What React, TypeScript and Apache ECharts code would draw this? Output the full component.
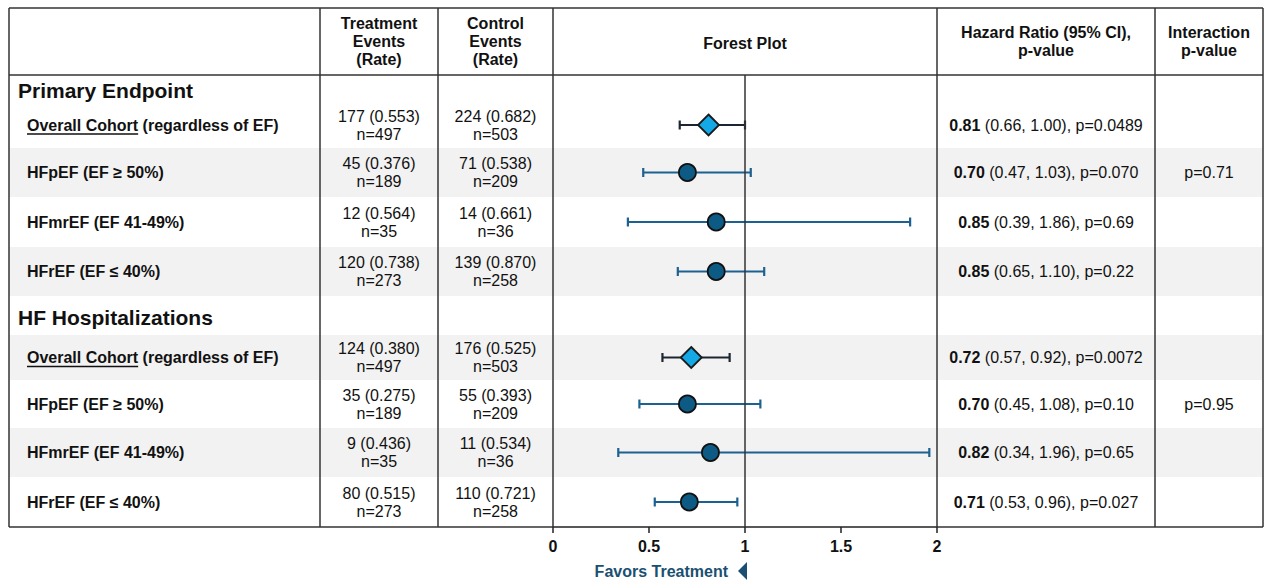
import React, { useEffect, useRef } from "react";
import * as echarts from "echarts";

// ---------- DATA ----------
const groupTitles = ["Primary Endpoint", "HF Hospitalizations"];
const subgroupLabels = ["Overall Cohort", "HFpEF (EF ≥ 50%)", "HFmrEF (EF 41-49%)", "HFrEF (EF ≤ 40%)"];
const overallSuffix = " (regardless of EF)";
const trtEvents = [177, 45, 12, 120, 124, 35, 9, 80];
const trtRate = [0.553, 0.376, 0.564, 0.738, 0.38, 0.275, 0.436, 0.515];
const trtN = [497, 189, 35, 273, 497, 189, 35, 273];
const ctlEvents = [224, 71, 14, 139, 176, 55, 11, 110];
const ctlRate = [0.682, 0.538, 0.661, 0.87, 0.525, 0.393, 0.534, 0.721];
const ctlN = [503, 209, 36, 258, 503, 209, 36, 258];
const hrValues = [0.81, 0.7, 0.85, 0.85, 0.72, 0.7, 0.82, 0.71];
const ciLow = [0.66, 0.47, 0.39, 0.65, 0.57, 0.45, 0.34, 0.53];
const ciHigh = [1.0, 1.03, 1.86, 1.1, 0.92, 1.08, 1.96, 0.96];
const pValues = ["0.0489", "0.070", "0.69", "0.22", "0.0072", "0.10", "0.65", "0.027"];
const interactionP = ["0.71", "0.95"];
const xTicks = [0, 0.5, 1, 1.5, 2];
const headerLabels = ["Treatment\nEvents\n(Rate)", "Control\nEvents\n(Rate)", "Forest Plot", "Hazard Ratio (95% CI),\np-value", "Interaction\np-value"];
const favorsLabel = "Favors Treatment";

// ---------- LAYOUT ----------
const W = 1265;
const H = 581;
const FONT = '"Liberation Sans", Arial, Helvetica, sans-serif';
const TL = 9, TR = 1263, TT = 8, HB = 75, TB = 527;
const colX = [320, 438, 553, 937, 1155];
const rowBounds = [75, 102, 148, 197, 247, 296, 335, 380, 428, 477, 527];
const shaded = [0, 0, 1, 0, 1, 0, 1, 0, 1, 0];
const LINE = "#333333";
const TXT = "#111111";

function measure(s: string, font: string) {
  const c = document.createElement("canvas").getContext("2d");
  if (!c) return s.length * 8;
  c.font = font;
  return c.measureText(s).width;
}

export default function App() {
  const ref = useRef<HTMLDivElement>(null);
  useEffect(() => {
    if (!ref.current) return;
    const chart = echarts.init(ref.current, undefined, { renderer: "svg" });

    const rowCenter = (i: number) => (rowBounds[i] + rowBounds[i + 1]) / 2;
    const tableRow = (i: number) => (i < 4 ? i + 1 : i + 2);

    const graphics: any[] = [];
    for (let r = 0; r < rowBounds.length - 1; r++) {
      if (shaded[r]) {
        graphics.push({
          type: "rect",
          z: 0,
          shape: { x: TL, y: rowBounds[r], width: TR - TL, height: rowBounds[r + 1] - rowBounds[r] },
          style: { fill: "#f2f2f2" },
        });
      }
    }
    const ln = (x1: number, y1: number, x2: number, y2: number) =>
      graphics.push({ type: "line", z: 20, shape: { x1, y1, x2, y2 }, style: { stroke: LINE, lineWidth: 1.5 } });
    ln(TL, TT, TR, TT);
    ln(TL, HB, TR, HB);
    ln(TL, TB, colX[2], TB);
    ln(colX[3], TB, TR, TB);
    ln(TL, TT, TL, TB);
    ln(TR, TT, TR, TB);
    colX.forEach((x) => ln(x, TT, x, TB));

    const hdrX = [
      (colX[0] + colX[1]) / 2,
      (colX[1] + colX[2]) / 2,
      (colX[2] + colX[3]) / 2,
      (colX[3] + colX[4]) / 2,
      (colX[4] + TR) / 2,
    ];
    headerLabels.forEach((t, i) => {
      graphics.push({
        type: "text",
        z: 30,
        x: hdrX[i],
        y: i === 2 ? 43 : 41,
        style: {
          text: t,
          font: `bold 16px ${FONT}`,
          fill: TXT,
          align: "center",
          verticalAlign: "middle",
          lineHeight: 18,
        },
      });
    });

    groupTitles.forEach((t, g) => {
      const r = g === 0 ? 0 : 5;
      graphics.push({
        type: "text",
        z: 30,
        x: 18,
        y: rowCenter(r) + 2,
        style: { text: t, font: `bold 21px ${FONT}`, fill: TXT, align: "left", verticalAlign: "middle" },
      });
    });

    const boldFont = `bold 16px ${FONT}`;
    const underlineW = measure(subgroupLabels[0], boldFont);

    for (let i = 0; i < 8; i++) {
      const r = tableRow(i);
      const cy = rowCenter(r);
      const s = i % 4;
      const label = s === 0 ? subgroupLabels[0] + overallSuffix : subgroupLabels[s];
      graphics.push({
        type: "text",
        z: 30,
        x: 27,
        y: cy,
        style: { text: label, font: boldFont, fill: TXT, align: "left", verticalAlign: "middle" },
      });
      if (s === 0) {
        graphics.push({
          type: "line",
          z: 30,
          shape: { x1: 27, y1: cy + 9, x2: 27 + underlineW, y2: cy + 9 },
          style: { stroke: TXT, lineWidth: 1.5 },
        });
      }
      graphics.push({
        type: "text",
        z: 30,
        x: hdrX[0],
        y: cy,
        style: {
          text: `${trtEvents[i]} (${trtRate[i].toFixed(3)})\nn=${trtN[i]}`,
          font: `16px ${FONT}`,
          fill: TXT,
          align: "center",
          verticalAlign: "middle",
          lineHeight: 18,
        },
      });
      graphics.push({
        type: "text",
        z: 30,
        x: hdrX[1],
        y: cy,
        style: {
          text: `${ctlEvents[i]} (${ctlRate[i].toFixed(3)})\nn=${ctlN[i]}`,
          font: `16px ${FONT}`,
          fill: TXT,
          align: "center",
          verticalAlign: "middle",
          lineHeight: 18,
        },
      });
      graphics.push({
        type: "text",
        z: 30,
        x: hdrX[3],
        y: cy,
        style: {
          text: `{b|${hrValues[i].toFixed(2)}}{n| (${ciLow[i].toFixed(2)}, ${ciHigh[i].toFixed(2)}), p=${pValues[i]}}`,
          align: "center",
          verticalAlign: "middle",
          rich: {
            b: { fontWeight: "bold", fontSize: 16, fontFamily: FONT, fill: TXT },
            n: { fontWeight: "normal", fontSize: 16, fontFamily: FONT, fill: TXT },
          },
        },
      });
      if (s === 1) {
        graphics.push({
          type: "text",
          z: 30,
          x: hdrX[4],
          y: cy,
          style: {
            text: `p=${interactionP[i < 4 ? 0 : 1]}`,
            font: `16px ${FONT}`,
            fill: TXT,
            align: "center",
            verticalAlign: "middle",
          },
        });
      }
    }

    graphics.push({
      type: "text",
      z: 30,
      x: 728,
      y: 571,
      style: { text: favorsLabel, font: `bold 16px ${FONT}`, fill: "#1b4f72", align: "right", verticalAlign: "middle" },
    });
    graphics.push({
      type: "polygon",
      z: 30,
      shape: { points: [[738, 571], [747, 562], [747, 580]] },
      style: { fill: "#1b4f72" },
    });

    const posY = (i: number) => rowCenter(tableRow(i)) - rowBounds[0];
    const ciData = hrValues.map((_, i) => [ciLow[i], ciHigh[i], posY(i), i % 4 === 0 ? 1 : 0]);
    const overallPts = hrValues.map((v, i) => (i % 4 === 0 ? [v, posY(i)] : null)).filter(Boolean);
    const subPts = hrValues.map((v, i) => (i % 4 !== 0 ? [v, posY(i)] : null)).filter(Boolean);

    chart.setOption({
      animation: false,
      grid: { left: colX[2], right: W - colX[3], top: rowBounds[0], bottom: H - TB, containLabel: false },
      xAxis: {
        type: "value",
        position: "bottom",
        min: 0,
        max: 2,
        interval: 0.5,
        axisLine: { show: true, onZero: false, lineStyle: { color: "#222", width: 1.5 } },
        axisTick: { show: true, inside: false, length: 6, lineStyle: { color: "#222", width: 1.5 } },
        axisLabel: {
          margin: 11,
          fontFamily: FONT,
          fontSize: 16,
          fontWeight: "bold",
          color: TXT,
          formatter: (v: number) => (xTicks.includes(v) ? String(v) : ""),
        },
        splitLine: { show: false },
      },
      yAxis: {
        type: "value",
        min: 0,
        max: TB - rowBounds[0],
        inverse: true,
        show: false,
      },
      graphic: { elements: graphics },
      series: [
        {
          type: "custom",
          z: 3,
          data: ciData,
          encode: { x: [0, 1], y: 2 },
          renderItem: (params: any, api: any) => {
            const lo = api.value(0);
            const hi = api.value(1);
            const y = api.value(2);
            const ov = api.value(3) === 1;
            const p1 = api.coord([lo, y]);
            const p2 = api.coord([hi, y]);
            const color = ov ? "#1c2633" : "#1d6190";
            const st = { stroke: color, lineWidth: 2.2 };
            return {
              type: "group",
              children: [
                { type: "line", shape: { x1: p1[0], y1: p1[1], x2: p2[0], y2: p2[1] }, style: st },
                { type: "line", shape: { x1: p1[0], y1: p1[1] - 4.5, x2: p1[0], y2: p1[1] + 4.5 }, style: st },
                { type: "line", shape: { x1: p2[0], y1: p2[1] - 4.5, x2: p2[0], y2: p2[1] + 4.5 }, style: st },
              ],
            };
          },
          markLine: {
            silent: true,
            symbol: "none",
            label: { show: false },
            lineStyle: { color: "#333", width: 1.5, type: "solid" },
            data: [{ xAxis: 1 }],
          },
        },
        {
          type: "scatter",
          z: 5,
          symbol: "diamond",
          symbolSize: [21, 21],
          data: overallPts,
          itemStyle: { color: "#14a9e6", borderColor: "#1a1a1a", borderWidth: 1.8, opacity: 1 },
        },
        {
          type: "scatter",
          z: 5,
          symbol: "circle",
          symbolSize: 17,
          data: subPts,
          itemStyle: { color: "#0d5b85", borderColor: "#111", borderWidth: 1.8, opacity: 1 },
        },
      ],
    });
    return () => chart.dispose();
  }, []);
  return <div ref={ref} style={{ position: "absolute", left: 0, top: 0, width: W, height: H, background: "#fff" }} />;
}
